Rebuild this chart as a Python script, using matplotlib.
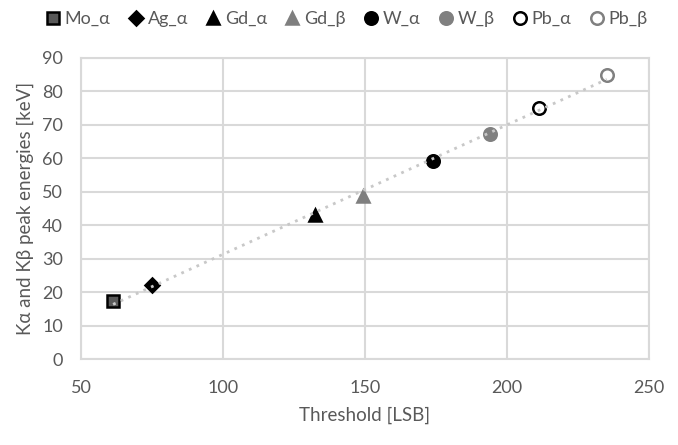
import numpy as np
import matplotlib
matplotlib.use("Agg")
import matplotlib.pyplot as plt

plt.rcParams['font.family'] = ['Lato', 'DejaVu Sans']

labels = ["Mo_α", "Ag_α", "Gd_α", "Gd_β", "W_α", "W_β", "Pb_α", "Pb_β"]
threshold = [61.3, 75.0, 132.4, 149.3, 174.0, 194.0, 211.3, 235.2]
energy = [17.5, 22.1, 43.0, 48.7, 59.3, 67.2, 75.0, 84.9]

markers = ['s', 'D', '^', '^', 'o', 'o', 'o', 'o']
faces = ['#595959', 'black', 'black', '#7f7f7f', 'black', '#808080', 'white', 'white']
edges = ['black', 'black', 'black', '#7f7f7f', 'black', '#808080', 'black', '#808080']
sizes = [9, 7, 9, 9, 9, 9, 9, 9]

txt = '#595959'
gridc = '#d9d9d9'

fig = plt.figure(figsize=(6.78, 4.45), dpi=100)
ax = fig.add_axes([0.1195, 0.193, 0.8375, 0.677])

for i in range(len(labels)):
    ax.plot(threshold[i], energy[i], linestyle='none', marker=markers[i],
            markersize=sizes[i], markerfacecolor=faces[i], markeredgecolor=edges[i],
            markeredgewidth=1.8, label=labels[i], zorder=3)

coef = np.polyfit(threshold, energy, 1)
xs = np.array([min(threshold), max(threshold)])
ax.plot(xs, np.polyval(coef, xs), linestyle=(0, (1, 2)), color='#c8c8c8',
        linewidth=2, zorder=4)

ax.set_xlim(50, 250)
ax.set_ylim(0, 90)
ax.set_xticks(np.arange(50, 251, 50))
ax.set_yticks(np.arange(0, 91, 10))
ax.grid(True, color=gridc, linewidth=1.5)
ax.set_axisbelow(True)
for s in ax.spines.values():
    s.set_color(gridc)
    s.set_linewidth(1.5)
ax.tick_params(axis='x', length=0, labelsize=13, colors=txt, pad=15)
ax.tick_params(axis='y', length=0, labelsize=13, colors=txt, pad=13)
ax.set_xlabel("Threshold [LSB]", fontsize=13.5, color=txt, labelpad=8)
ax.set_ylabel("Kα and Kβ peak energies [keV]", fontsize=13.5, color=txt, labelpad=6)

fig.legend(loc='upper center', bbox_to_anchor=(0.508, 1.012), ncol=8, frameon=False,
           fontsize=13, handletextpad=0.0, columnspacing=0.75, labelcolor=txt,
           handlelength=1.3)

fig.savefig("out.png", dpi=100)
